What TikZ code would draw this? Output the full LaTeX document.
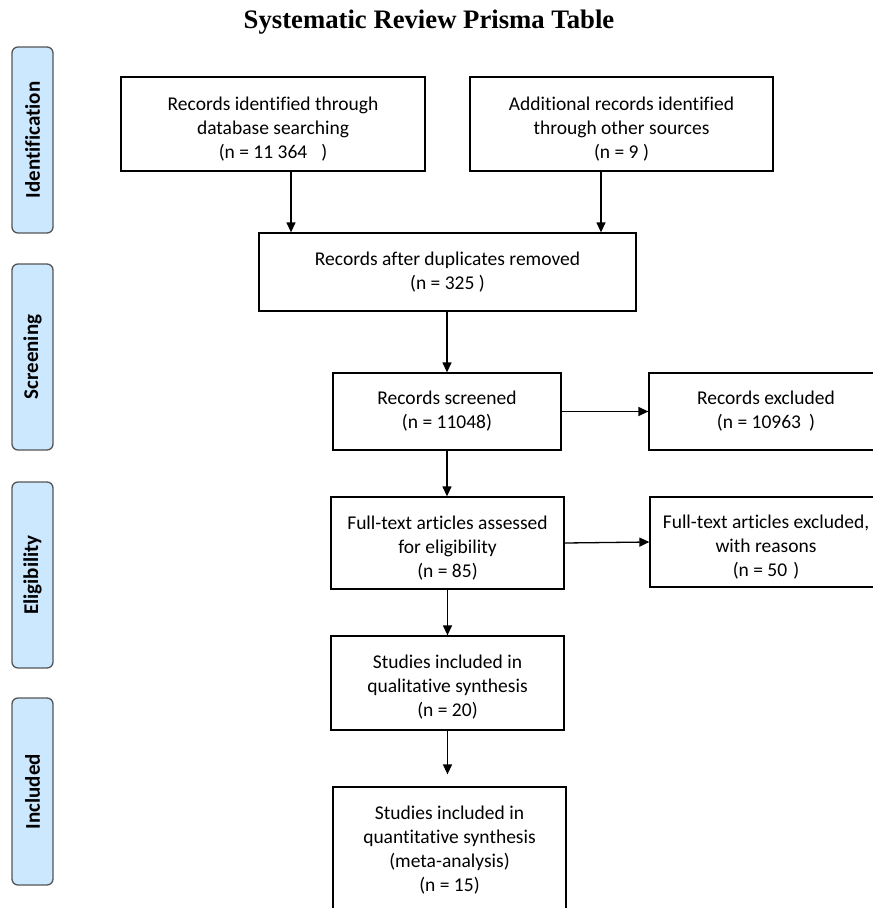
\documentclass[tikz,border=0pt]{standalone}
\usepackage{fontspec}
\setmainfont[Ligatures=NoCommon]{Carlito}
\newfontfamily\titlefont{Liberation Serif}
\usetikzlibrary{arrows.meta,calc}
\definecolor{tabblue}{RGB}{204,232,255}
\definecolor{tabedge}{RGB}{85,85,85}
\newcommand{\topstrut}[1]{\rule{0pt}{#1}}
\begin{document}
\begin{tikzpicture}[x=1pt,y=-1pt,
  box/.style={draw=black,line width=1.3pt,rectangle,align=center,inner sep=0pt,
    font=\fontsize{19.5}{24}\selectfont},
  tab/.style={draw=tabedge,fill=tabblue,line width=1.3pt,rounded corners=6pt,
    minimum width=41pt,inner sep=0pt},
  tablabel/.style={rotate=90,font=\bfseries\fontsize{21}{24}\selectfont},
  arr/.style={line width=1.3pt,-{Triangle[length=10pt,width=9pt]}}]
\useasboundingbox (0,0) rectangle (873,908);
\clip (0,0) rectangle (873,908);
\node[font=\titlefont\bfseries\fontsize{26.7}{30}\selectfont] (title) at (429,22) {Systematic Review Prisma Table};
% phase tabs
\node[tab,minimum height=186pt] (t1) at (32.5,140) {};
\node[tablabel] (l1) at (t1.center) {Identification};
\node[tab,minimum height=186pt] (t2) at (32.5,357) {};
\node[tablabel] (l2) at (t2.center) {Screening};
\node[tab,minimum height=186pt] (t3) at (32.5,575) {};
\node[tablabel] (l3) at (t3.center) {Eligibility};
\node[tab,minimum height=187pt] (t4) at (32.5,791.5) {};
\node[tablabel] (l4) at (t4.center) {Included};
% boxes
\node[box,minimum width=304pt,minimum height=94pt] (A) at (273,124) {\topstrut{23pt}Records identified through\\database searching\\(n = 11 364\hspace{14pt})};
\node[box,minimum width=303pt,minimum height=94pt] (B) at (621.5,124) {\topstrut{23pt}Additional records identified\\through other sources\\(n = 9 )};
\node[box,minimum width=377pt,minimum height=78pt] (C) at (447.5,272) {Records after duplicates removed\\(n = 325 )};
\node[box,minimum width=228pt,minimum height=77pt] (D) at (447,411.5) {Records screened\\(n = 11048)};
\node[box,minimum width=234pt,minimum height=77pt] (E) at (766,411.5) {Records excluded\\(n = 10963\hspace{8pt})};
\node[box,minimum width=233pt,minimum height=92pt] (F) at (447.5,543) {\topstrut{23pt}Full-text articles assessed\\for eligibility\\(n = 85)};
\node[box,minimum width=232pt,minimum height=90pt] (G) at (766,542) {\topstrut{24pt}Full-text articles excluded,\\with reasons\\(n = 50\hspace{6pt})};
\node[box,minimum width=233pt,minimum height=94pt] (H) at (447.5,683) {\topstrut{21pt}Studies included in\\qualitative synthesis\\(n = 20)};
\node[box,minimum width=233pt,minimum height=126pt] (I) at (449.5,850) {Studies included in\\quantitative synthesis\\(meta-analysis)\\(n = 15)};
% connectors
\draw[arr] ([xshift=18pt]A.south) -- ([xshift=18pt]A.south |- C.north);
\draw[arr] ([xshift=-20.5pt]B.south) -- ([xshift=-20.5pt]B.south |- C.north);
\draw[arr] (C.south -| D.north) -- (D.north);
\draw[arr] (D.east) -- (E.west);
\draw[arr] (D.south) -- (D.south |- F.north);
\draw[arr] (F.east) -- (G.west);
\draw[arr] (F.south -| H.north) -- (H.north);
\draw[arr,shorten >=12pt] (H.south) -- (H.south |- I.north);
\end{tikzpicture}
\end{document}
